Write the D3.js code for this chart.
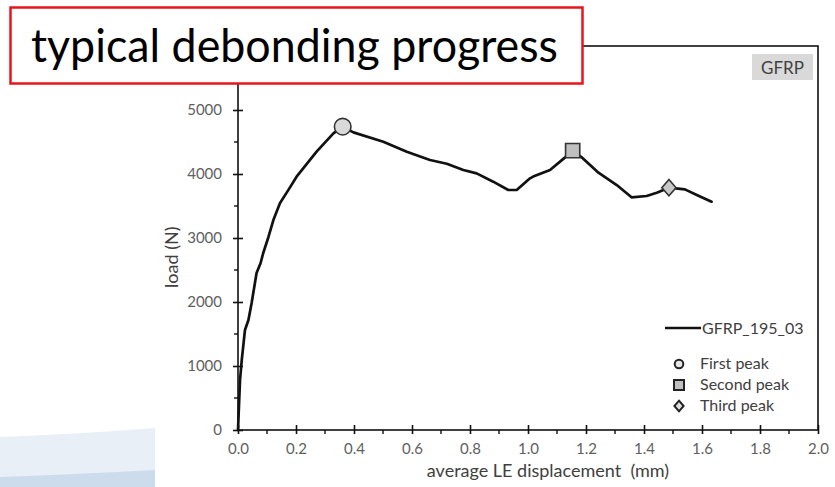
<!DOCTYPE html>
<html>
<head>
<meta charset="utf-8">
<script src="https://cdn.jsdelivr.net/npm/d3@7"></script>
<style>
  html, body { margin: 0; padding: 0; background: #fff; }
  svg { display: block; font-family: Lato, "Open Sans", sans-serif; }
</style>
</head>
<body>
<svg id="chart" width="835" height="487"></svg>
<script>
// Load–displacement record of specimen GFRP_195_03
const displacement = [0, 0.007, 0.013, 0.024, 0.036, 0.047, 0.064, 0.078, 0.087, 0.105, 0.122, 0.145,
  0.175, 0.202, 0.271, 0.329, 0.361, 0.398, 0.501, 0.582, 0.662, 0.72, 0.777, 0.823, 0.88,
  0.932, 0.961, 1.007, 1.018, 1.076, 1.128, 1.154, 1.185, 1.243, 1.306, 1.357, 1.409, 1.444, 1.486,
  1.541, 1.582, 1.633];
const load = [0, 781, 1094, 1562, 1719, 1984, 2453, 2609, 2766, 3016, 3281, 3547,
  3760, 3958, 4349, 4635, 4740, 4650, 4505, 4349, 4219, 4160, 4063, 4010, 3880,
  3750, 3750, 3932, 3960, 4063, 4260, 4365, 4260, 4021, 3828, 3636, 3656, 3708, 3786,
  3760, 3672, 3568];

// Debonding peaks
const peakNames = ["First peak", "Second peak", "Third peak"];
const peakX = [0.361, 1.154, 1.486];
const peakY = [4740, 4365, 3786];

const xTicks = [0, 0.2, 0.4, 0.6, 0.8, 1.0, 1.2, 1.4, 1.6, 1.8, 2.0];
const xMinor = [0.1, 0.3, 0.5, 0.7, 0.9, 1.1, 1.3, 1.5, 1.7, 1.9];
const yTicks = [0, 1000, 2000, 3000, 4000, 5000];
const yMinor = [500, 1500, 2500, 3500, 4500, 5500];

const seriesName = "GFRP_195_03";
const panelTag = "GFRP";
const titleText = "typical debonding progress";

const svg = d3.select("#chart");

// slide background bands, lower left
const bg = svg.append("g");
bg.append("path")
  .attr("d", "M0,437 Q80,434 155,428 L155,487 L0,487 Z")
  .attr("fill", "#e9eff7");
bg.append("path")
  .attr("d", "M0,477 Q80,474 155,470 L155,487 L0,487 Z")
  .attr("fill", "#cddcec");

const x = d3.scaleLinear().domain([0, 2]).range([238, 818]);
const y = d3.scaleLinear().domain([0, 6000]).range([430, 46]);

const tickColor = "#606060";
const g = svg.append("g");

// plot frame
g.append("rect")
  .attr("x", x(0)).attr("y", y(6000))
  .attr("width", x(2) - x(0)).attr("height", y(0) - y(6000))
  .attr("fill", "none").attr("stroke", "#111").attr("stroke-width", 1.6);

// x axis
const xAxis = g.append("g")
  .attr("transform", `translate(0,${y(0)})`)
  .call(d3.axisBottom(x).tickValues(xTicks).tickFormat(d3.format(".1f")).tickSize(4).tickPadding(9));
xAxis.select(".domain").remove();
xAxis.selectAll(".tick line").attr("y1", -5).attr("stroke", "#111").attr("stroke-width", 1.6);
xAxis.selectAll(".tick text").attr("fill", tickColor).style("font-size", "15px").style("font-family", "Lato");
g.append("g").selectAll("line").data(xMinor).join("line")
  .attr("x1", d => x(d)).attr("x2", d => x(d))
  .attr("y1", y(0)).attr("y2", y(0) + 4)
  .attr("stroke", "#111").attr("stroke-width", 1.4);

// y axis
const yAxis = g.append("g")
  .attr("transform", `translate(${x(0)},0)`)
  .call(d3.axisLeft(y).tickValues(yTicks).tickFormat(d3.format("d")).tickSize(5).tickPadding(11));
yAxis.select(".domain").remove();
yAxis.selectAll(".tick line").attr("x1", 5).attr("stroke", "#111").attr("stroke-width", 1.6);
yAxis.selectAll(".tick text").attr("fill", tickColor).style("font-size", "15px").style("font-family", "Lato");
g.append("g").selectAll("line").data(yMinor).join("line")
  .attr("x1", x(0) - 4).attr("x2", x(0))
  .attr("y1", d => y(d)).attr("y2", d => y(d))
  .attr("stroke", "#111").attr("stroke-width", 1.4);

// axis titles
g.append("text")
  .attr("x", 548).attr("y", 477)
  .attr("text-anchor", "middle")
  .attr("fill", "#404040").style("font-size", "18px").style("white-space", "pre")
  .text("average LE displacement  (mm)");
g.append("text")
  .attr("transform", `translate(178,${y(2700)}) rotate(-90)`)
  .attr("text-anchor", "middle")
  .attr("fill", "#404040").style("font-size", "18px")
  .text("load (N)");

// curve
const line = d3.line().x((d, i) => x(displacement[i])).y((d, i) => y(load[i]));
g.append("path")
  .datum(load)
  .attr("d", line)
  .attr("fill", "none").attr("stroke", "#111").attr("stroke-width", 2.7)
  .attr("stroke-linejoin", "round").attr("stroke-linecap", "round");

// peak markers
function markerPath(kind, s) {
  if (kind === 0) return d3.symbol(d3.symbolCircle, Math.PI * s * s)();
  if (kind === 1) return `M${-s},${-s}H${s}V${s}H${-s}Z`;
  return `M0,${-s * 1.15}L${s},0L0,${s * 1.15}L${-s},0Z`;
}
const peakFill = ["#d9d9d9", "#bfbfbf", "#c8c8c8"];
const peakSize = [8.3, 7.1, 7.1];
g.append("g").selectAll("path").data(peakX).join("path")
  .attr("transform", (d, i) => `translate(${x(d)},${y(peakY[i])})`)
  .attr("d", (d, i) => markerPath(i, peakSize[i]))
  .attr("fill", (d, i) => peakFill[i])
  .attr("stroke", "#333").attr("stroke-width", 1.6);

// panel tag
g.append("rect")
  .attr("x", 752).attr("y", 54).attr("width", 61).attr("height", 26)
  .attr("fill", "#d9d9d9");
g.append("text")
  .attr("x", 782.5).attr("y", 73.5).attr("text-anchor", "middle")
  .attr("fill", "#404040").style("font-size", "17px")
  .text(panelTag);

// legend
const legend = g.append("g");
legend.append("line")
  .attr("x1", 665).attr("x2", 701).attr("y1", 328).attr("y2", 328)
  .attr("stroke", "#111").attr("stroke-width", 2.7);
legend.append("text")
  .attr("x", 702).attr("y", 333.5)
  .attr("fill", "#404040").style("font-size", "16px")
  .text(seriesName);
const legY = [364, 385, 406];
const legFill = ["#e6e6e6", "#bfbfbf", "#e0e0e0"];
const legSize = [4.3, 5, 4.6];
legend.selectAll("path.lm").data(peakNames).join("path")
  .attr("class", "lm")
  .attr("transform", (d, i) => `translate(679,${legY[i]})`)
  .attr("d", (d, i) => markerPath(i, legSize[i]))
  .attr("fill", (d, i) => legFill[i])
  .attr("stroke", "#222").attr("stroke-width", 2);
legend.selectAll("text.lt").data(peakNames).join("text")
  .attr("class", "lt")
  .attr("x", 700).attr("y", (d, i) => legY[i] + 5)
  .attr("fill", "#404040").style("font-size", "16px")
  .text(d => d);

// title callout
const tb = svg.append("g");
tb.append("rect")
  .attr("x", 10.5).attr("y", 7.5).attr("width", 572).attr("height", 76)
  .attr("fill", "#fff").attr("stroke", "#e8141c").attr("stroke-width", 2.5);
tb.append("text")
  .attr("x", 31).attr("y", 62)
  .attr("fill", "#000").style("font-size", "46px")
  .attr("textLength", 527).attr("lengthAdjust", "spacingAndGlyphs")
  .text(titleText);
</script>
</body>
</html>
